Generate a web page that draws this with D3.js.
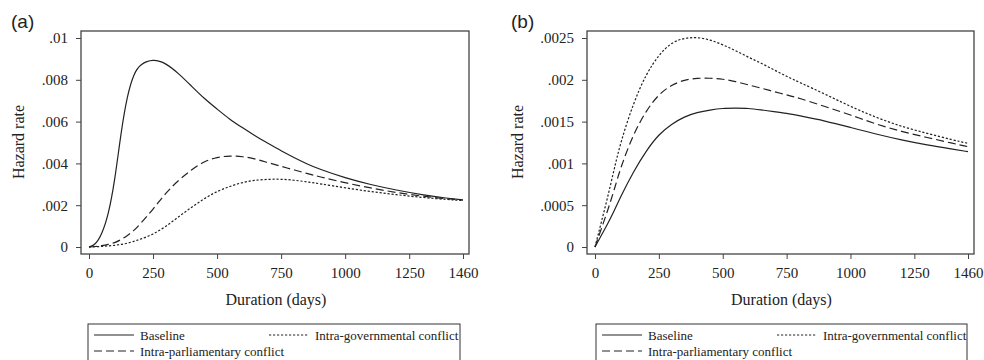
<!DOCTYPE html>
<html>
<head>
<meta charset="utf-8">
<script src="https://cdn.jsdelivr.net/npm/d3@7"></script>
<style>
  body { margin: 0; background: #fff; }
  svg { display: block; }
</style>
</head>
<body>
<svg class="svg"></svg>
<script>
// data
const xTicks = [0, 250, 500, 750, 1000, 1250, 1460];

const daysA = [0, 25, 50, 75, 100, 125, 150, 175, 200, 250, 300, 350, 400, 450, 500, 550, 600, 650, 700, 750, 800, 850, 900, 1000, 1100, 1200, 1300, 1400, 1460];
const baselineA = [0, 0.0001, 0.0006, 0.0015, 0.0031, 0.0055, 0.0073, 0.0083, 0.00875, 0.0090, 0.0088, 0.0083, 0.0077, 0.0071, 0.0066, 0.0061, 0.0057, 0.0053, 0.00495, 0.0046, 0.00428, 0.00398, 0.00372, 0.0033, 0.00298, 0.00272, 0.0025, 0.00233, 0.00225];
const parlA = [0, 0.00002, 0.00006, 0.00012, 0.0002, 0.00035, 0.00055, 0.00078, 0.0011, 0.0018, 0.0026, 0.0032, 0.0037, 0.0041, 0.0043, 0.00437, 0.00433, 0.00422, 0.00403, 0.00386, 0.00369, 0.00352, 0.00336, 0.00307, 0.00282, 0.0026, 0.00243, 0.0023, 0.00225];
const govA = [0, 0.00001, 0.00003, 0.00005, 0.00008, 0.00012, 0.00018, 0.00027, 0.00037, 0.0006, 0.00098, 0.00145, 0.0019, 0.00232, 0.00267, 0.0029, 0.0031, 0.0032, 0.00324, 0.00325, 0.0032, 0.00312, 0.00303, 0.00283, 0.00265, 0.0025, 0.00237, 0.00227, 0.00222];
const yTicksA = [0, 0.002, 0.004, 0.006, 0.008, 0.01];
const yLabelsA = ["0", ".002", ".004", ".006", ".008", ".01"];

const daysB = [0, 25, 50, 75, 100, 150, 200, 250, 300, 350, 400, 450, 500, 550, 600, 650, 700, 750, 800, 900, 1000, 1100, 1200, 1300, 1400, 1460];
const baselineB = [0, 0.00014, 0.00028, 0.00043, 0.0006, 0.0009, 0.00115, 0.00135, 0.00147, 0.00156, 0.00161, 0.00164, 0.00166, 0.00166, 0.00166, 0.00164, 0.00162, 0.0016, 0.00157, 0.00151, 0.00143, 0.00135, 0.00128, 0.00122, 0.00117, 0.00114];
const parlB = [0, 0.00022, 0.00044, 0.00068, 0.00095, 0.00135, 0.00163, 0.00183, 0.00194, 0.002, 0.00202, 0.00202, 0.00201, 0.00198, 0.00194, 0.0019, 0.00186, 0.00182, 0.00178, 0.00168, 0.00158, 0.00147, 0.00138, 0.00131, 0.00124, 0.0012];
const govB = [0, 0.0003, 0.0006, 0.00093, 0.00125, 0.00172, 0.00207, 0.0023, 0.00245, 0.0025, 0.00251, 0.00248, 0.00242, 0.00235, 0.00227, 0.0022, 0.00212, 0.00204, 0.00197, 0.00183, 0.00168, 0.00155, 0.00144, 0.00136, 0.00128, 0.00124];
const yTicksB = [0, 0.0005, 0.001, 0.0015, 0.002, 0.0025];
const yLabelsB = ["0", ".0005", ".001", ".0015", ".002", ".0025"];

const seriesNames = ["Baseline", "Intra-governmental conflict", "Intra-parliamentary conflict"];
const dashes = { base: null, gov: "2.2,1.8", parl: "8,4" };
const serif = "'Liberation Serif', 'Times New Roman', serif";

const svg = d3.select(".svg").attr("width", 984).attr("height", 360);

function panel(p) {
  const g = svg.append("g");
  const x = d3.scaleLinear().domain([0, 1460]).range([p.left + 8, p.right - 6]);
  const y = d3.scaleLinear().domain([0, p.yMax]).range([247, 38]);

  // plot frame
  g.append("rect")
    .attr("x", p.left).attr("y", 31)
    .attr("width", p.right - p.left).attr("height", 254 - 31)
    .attr("fill", "none").attr("stroke", "#444").attr("stroke-width", 1.3);

  const yAxis = g.append("g")
    .attr("transform", `translate(${p.left},0)`)
    .call(d3.axisLeft(y).tickValues(p.yTicks).tickSize(5).tickPadding(8)
      .tickFormat((d, i) => p.yLabels[i]));
  const xAxis = g.append("g")
    .attr("transform", "translate(0,254)")
    .call(d3.axisBottom(x).tickValues(xTicks).tickSize(5).tickPadding(8)
      .tickFormat(d3.format("d")));
  [yAxis, xAxis].forEach(a => {
    a.select(".domain").remove();
    a.selectAll("line").attr("stroke", "#444");
    a.selectAll("text").style("font-family", serif).style("font-size", "15px").attr("fill", "#222");
  });

  const line = d3.line().x(d => x(d[0])).y(d => y(d[1])).curve(d3.curveBasis);
  const curves = [
    { vals: p.base, dash: dashes.base },
    { vals: p.parl, dash: dashes.parl },
    { vals: p.gov, dash: dashes.gov }
  ];
  curves.forEach(c => {
    g.append("path")
      .datum(p.days.map((d, i) => [d, c.vals[i]]))
      .attr("d", line)
      .attr("fill", "none")
      .attr("stroke", "#222")
      .attr("stroke-width", 1.2)
      .attr("stroke-dasharray", c.dash);
  });

  // titles
  g.append("text")
    .attr("x", p.tagX).attr("y", 28)
    .style("font-family", "'Liberation Sans', Arial, sans-serif")
    .style("font-size", "19px")
    .attr("fill", "#222")
    .text(p.tag);
  g.append("text")
    .attr("transform", `translate(${p.yLabX},142) rotate(-90)`)
    .attr("text-anchor", "middle")
    .style("font-family", serif).style("font-size", "16px")
    .attr("fill", "#222")
    .text("Hazard rate");
  g.append("text")
    .attr("x", (x.range()[0] + x.range()[1]) / 2).attr("y", 305)
    .attr("text-anchor", "middle")
    .style("font-family", serif).style("font-size", "16px")
    .attr("fill", "#222")
    .text("Duration (days)");

  // legend
  const lx = p.legLeft;
  g.append("rect")
    .attr("x", lx).attr("y", 324)
    .attr("width", p.legRight - lx).attr("height", 60)
    .attr("fill", "none").attr("stroke", "#333").attr("stroke-width", 1);
  const items = [
    { name: seriesNames[0], dash: dashes.base, x: lx + 6, y: 335 },
    { name: seriesNames[1], dash: dashes.gov, x: lx + 181, y: 335 },
    { name: seriesNames[2], dash: dashes.parl, x: lx + 6, y: 351 }
  ];
  items.forEach(it => {
    g.append("line")
      .attr("x1", it.x).attr("x2", it.x + 40)
      .attr("y1", it.y).attr("y2", it.y)
      .attr("stroke", "#222").attr("stroke-width", 1.2)
      .attr("stroke-dasharray", it.dash);
    g.append("text")
      .attr("x", it.x + 46).attr("y", it.y + 4.5)
      .style("font-family", serif).style("font-size", "13px")
      .attr("fill", "#222")
      .text(it.name);
  });
}

panel({
  tag: "(a)", tagX: 11, yLabX: 24,
  left: 81, right: 469, yMax: 0.01,
  yTicks: yTicksA, yLabels: yLabelsA,
  days: daysA, base: baselineA, parl: parlA, gov: govA,
  legLeft: 88, legRight: 460
});
panel({
  tag: "(b)", tagX: 511, yLabX: 523,
  left: 587, right: 974, yMax: 0.0025,
  yTicks: yTicksB, yLabels: yLabelsB,
  days: daysB, base: baselineB, parl: parlB, gov: govB,
  legLeft: 596, legRight: 967
});
</script>
</body>
</html>
